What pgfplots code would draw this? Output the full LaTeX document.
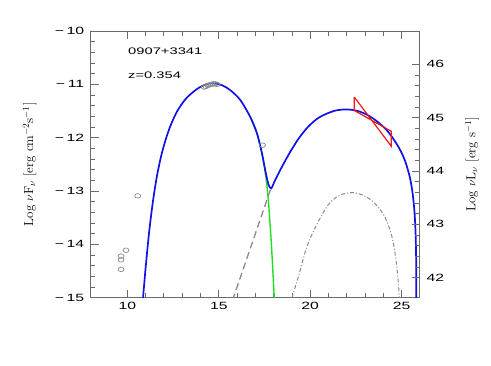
\documentclass[border=0pt]{standalone}
\usepackage{fontspec}
\usepackage{graphicx}
\usepackage{pgfplots}
\pgfplotsset{compat=1.18}
\newfontfamily\hfont{Liberation Sans}
\definecolor{axgray}{HTML}{6A6A6A}
\definecolor{ptgray}{HTML}{8A8A8A}
\definecolor{sedblue}{HTML}{1010E8}
\definecolor{sedgreen}{HTML}{20E020}
\definecolor{sedred}{HTML}{F01818}
\newcommand{\tl}[1]{\scalebox{1.5}[1]{\hfont\fontsize{10.5}{12}\selectfont #1}}
\newcommand{\ttl}[1]{\scalebox{1.55}[1]{\hfont\fontsize{9.5}{11}\selectfont #1}}

\begin{document}
\begin{tikzpicture}
\path[use as bounding box] (-90.7pt,-67.3pt) rectangle (400.3pt,297.7pt);
\begin{axis}[
  at={(0pt,0pt)}, anchor=south west, scale only axis,
  width=329.3pt, height=266.7pt,
  xmin=8, xmax=26, ymin=-15, ymax=-10,
  xtick={10,15,20,25}, xticklabels={\tl{10},\tl{15},\tl{20},\tl{25}},
  minor x tick num=4,
  ytick={-15,-14,-13,-12,-11,-10},
  yticklabels={\tl{−\,15},\tl{−\,14},\tl{−\,13},\tl{−\,12},\tl{−\,11},\tl{−\,10}},
  minor y tick num=4,
  ytick pos=left, xtick pos=both,
  tick align=inside,
  major tick length=8pt, minor tick length=4.5pt,
  axis line style={axgray, line width=1pt},
  every tick/.style={axgray, line width=0.8pt},
  yticklabel style={xshift=-3pt},
  xticklabel style={yshift=-1pt},
  ylabel={Log $\nu$F$_\nu$ [erg cm$^{-2}$s$^{-1}$]},
  ylabel style={at={(axis description cs:-0.185,0.5)}, anchor=center, font=\fontsize{13}{15}\selectfont},
  clip=true,
]
% green synchrotron
\addplot[sedgreen, line width=1.4pt] coordinates {
(16.72,-11.61) (17.09,-11.92) (17.36,-12.29) (17.5,-12.55) (17.62,-12.85)
(17.72,-13.2) (17.8,-13.6) (17.88,-14.0) (17.95,-14.45) (18.05,-15.1)};
% grey dashed
\addplot[ptgray, line width=1.3pt, dash pattern=on 7pt off 4pt] coordinates {
(15.75,-15.05) (17.87,-12.93)};
% grey dash-dotted
\addplot[ptgray, line width=1pt, dash pattern=on 4pt off 2pt on 1pt off 2pt, smooth, tension=0.5] coordinates {
(19.0,-15) (19.4,-14.55) (19.82,-14.04) (20.37,-13.62) (21.0,-13.25) (21.6,-13.08)
(22.29,-13.03) (22.9,-13.08) (23.5,-13.22) (24.02,-13.45) (24.35,-13.72)
(24.57,-14.02) (24.75,-14.48) (24.89,-15.05)};
% blue total
\addplot[sedblue, line width=1.7pt, smooth, tension=0.5] coordinates {
(10.85,-15.05) (11.0,-14.45) (11.2,-13.75) (11.4,-13.2) (11.6,-12.76)
(11.8,-12.42) (12.0,-12.15) (12.3,-11.83) (12.7,-11.52) (13.2,-11.27)
(13.8,-11.09) (14.3,-11.0) (14.7,-10.98) (15.2,-11.02)
(15.63,-11.11) (16.17,-11.29) (16.72,-11.61) (17.09,-11.92) (17.36,-12.29)
(17.54,-12.61) (17.72,-12.88) (17.87,-12.95) (18.05,-12.82)
(18.4,-12.58) (18.9,-12.27) (19.4,-12.0) (19.9,-11.79) (20.4,-11.64)
(20.9,-11.55) (21.4,-11.49) (22.0,-11.47) (22.6,-11.5) (23.1,-11.57)
(23.6,-11.68) (24.1,-11.83) (24.5,-12.0) (24.9,-12.22) (25.2,-12.45)
(25.45,-12.75) (25.6,-13.05) (25.7,-13.4) (25.76,-13.8) (25.79,-14.3) (25.8,-15.05)};
% data points
\addplot[only marks, mark=o, mark size=3pt, ptgray, mark options={yscale=0.75, line width=0.7pt}] coordinates {
(9.66,-14.22) (9.66,-14.29) (9.66,-14.47) (9.93,-14.11) (10.57,-13.09) (17.39,-12.14)
(14.2,-11.05) (14.3,-11.04) (14.4,-11.02) (14.5,-11.01) (14.6,-11.0)
(14.7,-10.99) (14.8,-10.99) (14.9,-11.0)};
% Fermi bowtie
\addplot[sedred, line width=1.2pt] coordinates {
(22.41,-11.24) (24.43,-12.16) (24.43,-11.88) (22.41,-11.49) (22.41,-11.24)};
\node[anchor=west, inner sep=0pt] at (axis cs:10.04,-10.375) {\ttl{0907+3341}};
\node[anchor=west, inner sep=0pt] at (axis cs:10.04,-10.825) {\ttl{z=0.354}};
\end{axis}
\begin{axis}[
  at={(0pt,0pt)}, anchor=south west, scale only axis,
  width=329.3pt, height=266.7pt,
  xmin=8, xmax=26, ymin=41.625, ymax=46.625,
  xtick=\empty,
  ytick={42,43,44,45,46},
  yticklabels={\tl{42},\tl{43},\tl{44},\tl{45},\tl{46}},
  minor y tick num=4,
  ytick pos=right,
  tick align=inside,
  major tick length=8pt, minor tick length=4.5pt,
  axis line style={draw=none},
  every tick/.style={axgray, line width=0.8pt},
  yticklabel style={xshift=3pt},
  ylabel={Log $\nu$L$_\nu$ [erg s$^{-1}$]},
  ylabel style={at={(axis description cs:1.158,0.5)}, anchor=center, rotate=0, font=\fontsize{13}{15}\selectfont},
]
\end{axis}
\end{tikzpicture}
\end{document}
